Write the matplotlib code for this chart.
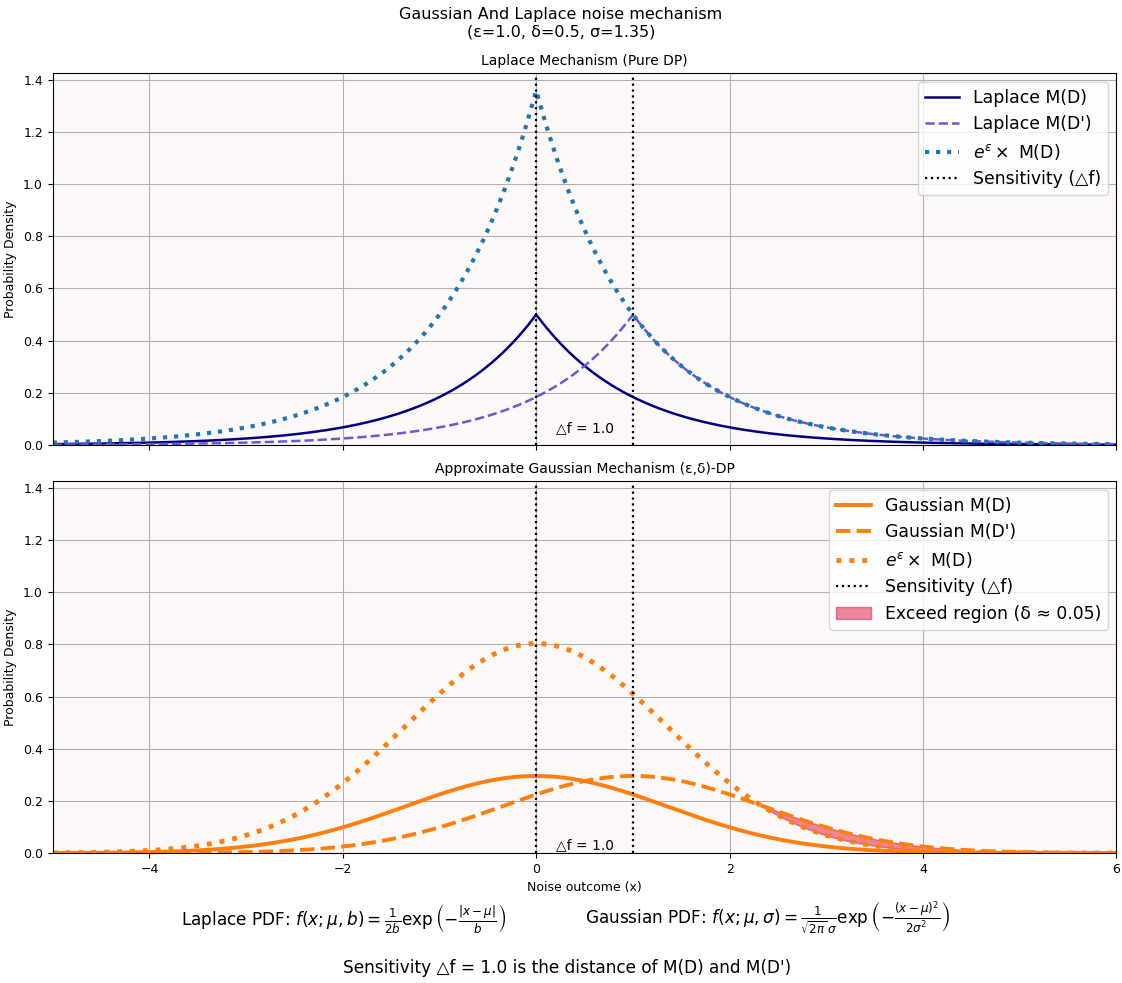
import numpy as np
import matplotlib
matplotlib.use("Agg")
import matplotlib.pyplot as plt

# mechanism parameters (from title)
epsilon = 1.0
delta = 0.5
sigma = 1.35
sensitivity = 1.0
b = sensitivity / epsilon
x_range = [-5, 6]

x = np.linspace(x_range[0], x_range[1], 1000)


def laplace_pdf(x, mu, b):
    return np.exp(-np.abs(x - mu) / b) / (2 * b)


def gauss_pdf(x, mu, s):
    return np.exp(-(x - mu) ** 2 / (2 * s ** 2)) / (np.sqrt(2 * np.pi) * s)


lap_d = laplace_pdf(x, 0, b)
lap_d2 = laplace_pdf(x, sensitivity, b)
lap_bound = np.exp(epsilon) * lap_d
gau_d = gauss_pdf(x, 0, sigma)
gau_d2 = gauss_pdf(x, sensitivity, sigma)
gau_bound = np.exp(epsilon) * gau_d
exceed = gau_d2 > gau_bound
delta_est = 0.05

ymax = lap_bound.max() * 1.05
bg = '#fdf8f8'

fig, (ax1, ax2) = plt.subplots(2, 1, figsize=(11.22, 9.83), dpi=100, sharex=True, sharey=True)
fig.subplots_adjust(left=0.047, right=0.995, top=0.9257, bottom=0.1322, hspace=0.097)

fig.suptitle('Gaussian And Laplace noise mechanism\n(\u03b5=1.0, \u03b4=0.5, \u03c3=1.35)', fontsize=11.5, y=0.993)

# Laplace
ax1.set_facecolor(bg)
ax1.plot(x, lap_d, color='navy', lw=1.8, label='Laplace M(D)')
ax1.plot(x, lap_d2, color='slateblue', lw=1.8, ls='--', label="Laplace M(D')")
ax1.plot(x, lap_bound, color='tab:blue', lw=3, ls=':', label=r'$e^{\varepsilon}\times$ M(D)')
ax1.axvline(0, color='black', lw=1.6, ls=':', label='Sensitivity (\u25b3f)')
ax1.axvline(sensitivity, color='black', lw=1.6, ls=':')
ax1.text(0.2, 0.05, '\u25b3f = 1.0', fontsize=10)
ax1.set_title('Laplace Mechanism (Pure DP)', fontsize=10)
ax1.set_ylabel('Probability Density', fontsize=9)
ax1.grid(True, color='#b0b0b0', lw=0.8)
ax1.legend(fontsize=12.4, loc='upper right')

# Gaussian
ax2.set_facecolor(bg)
ax2.plot(x, gau_d, color='tab:orange', lw=2.8, label='Gaussian M(D)')
ax2.plot(x, gau_d2, color='tab:orange', lw=2.8, ls='--', label="Gaussian M(D')")
ax2.plot(x, gau_bound, color='tab:orange', lw=3.5, ls=':', label=r'$e^{\varepsilon}\times$ M(D)')
ax2.axvline(0, color='black', lw=1.6, ls=':', label='Sensitivity (\u25b3f)')
ax2.axvline(sensitivity, color='black', lw=1.6, ls=':')
ax2.fill_between(x, gau_bound, gau_d2, where=exceed, color='crimson', alpha=0.5,
                 label='Exceed region (\u03b4 \u2248 %.2f)' % delta_est)
ax2.text(0.2, 0.015, '\u25b3f = 1.0', fontsize=10)
ax2.set_title('Approximate Gaussian Mechanism (\u03b5,\u03b4)-DP', fontsize=10)
ax2.set_ylabel('Probability Density', fontsize=9)
ax2.set_xlabel('Noise outcome (x)', fontsize=9)
ax2.grid(True, color='#b0b0b0', lw=0.8)
ax2.legend(fontsize=12.4, loc='upper right')

ax2.set_xlim(x_range)
ax2.set_ylim(0, ymax)
for ax in (ax1, ax2):
    ax.tick_params(labelsize=9)

fig.text(0.306, 0.066, r'Laplace PDF: $f(x;\mu,b)=\frac{1}{2b}\exp\left(-\frac{|x-\mu|}{b}\right)$',
         ha='center', va='center', fontsize=12.2)
fig.text(0.684, 0.066, r'Gaussian PDF: $f(x;\mu,\sigma)=\frac{1}{\sqrt{2\pi}\,\sigma}\exp\left(-\frac{(x-\mu)^2}{2\sigma^2}\right)$',
         ha='center', va='center', fontsize=12.2)
fig.text(0.505, 0.015, 'Sensitivity \u25b3f = 1.0 is the distance of M(D) and M(D\')',
         ha='center', va='center', fontsize=12.2)

fig.savefig('out.png')
